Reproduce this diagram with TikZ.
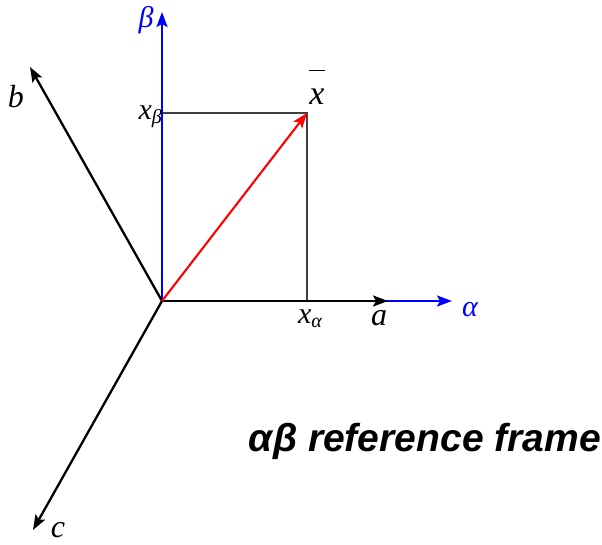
\documentclass[tikz,border=0pt]{standalone}
\usepackage{fontspec}
\setmainfont{Liberation Serif}
\newfontfamily\titlefont{Liberation Sans}
\usetikzlibrary{arrows.meta}
\begin{document}
\begin{tikzpicture}[x=1pt,y=-1pt,
  ax/.style={line width=2.3pt,-{Stealth[length=15pt,width=11pt,inset=3pt]}},
  lbl/.style={inner sep=0pt,font=\fontsize{32}{34}\selectfont\itshape},
  glbl/.style={inner sep=0pt,font=\fontsize{30}{32}\selectfont\itshape},
  slbl/.style={inner sep=0pt,font=\fontsize{30}{32}\selectfont\itshape},
  gridl/.style={draw=black!75,line width=2pt}]
\useasboundingbox (0,0) rectangle (602,544);
\coordinate (o) at (162,301);
\coordinate (betaend) at (162,12);
\coordinate (alphaend) at (452,301);
\coordinate (aend) at (388,301);
\coordinate (bend) at (30,67);
\coordinate (cend) at (33,530);
\coordinate (xv) at (307,113);
\coordinate (xb) at (162,113);
\coordinate (xa) at (307,301);
% projections
\draw[gridl] (xb) -- (xv) -- (xa);
% alpha beta axes
\draw[ax,blue] (o) -- (alphaend);
\draw[ax,blue] (o) -- (betaend);
% abc axes
\draw[ax,black] (o) -- (aend);
\draw[ax,black] (o) -- (bend);
\draw[ax,black] (o) -- (cend);
% vector
\draw[ax,red,line width=2.1pt] (o) -- (xv);
% labels
\node[glbl,blue] (lbeta) at (146,20) {β};
\node[glbl,blue,anchor=base] (lalpha) at (470,316) {α};
\node[lbl,anchor=base] (la) at (379,325) {a};
\node[lbl,anchor=base] (lb) at (16,107) {b};
\node[lbl,anchor=base] (lc) at (58,537) {c};
\node[slbl,anchor=base east] (lxb) at (162,119) {x\raisebox{-0.3ex}{\fontsize{20}{22}\selectfont β}};
\node[slbl,anchor=base] (lxa) at (310,323) {x\raisebox{-0.3ex}{\fontsize{20}{22}\selectfont α}};
\node[inner sep=0pt,anchor=base,font=\fontsize{34}{36}\selectfont] (lxbar) at (317,104) {$\overline{\raisebox{0pt}[0.95em][0pt]{\itshape x}}$};
\node[inner sep=0pt,anchor=east,font=\titlefont\bfseries\itshape\fontsize{39}{41}\selectfont] (title) at (601,441) {αβ reference frame};
\end{tikzpicture}
\end{document}
